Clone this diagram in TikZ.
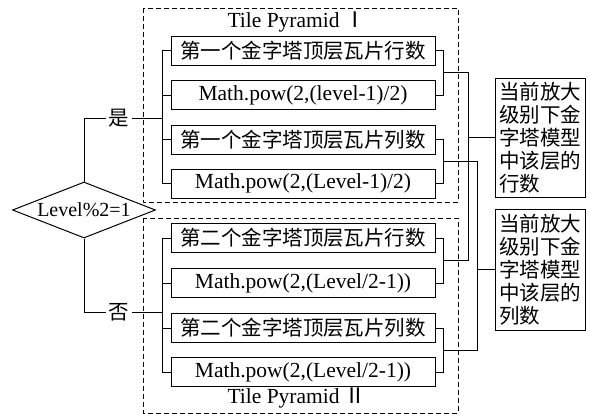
\documentclass[tikz,border=0pt]{standalone}
\usepackage{fontspec}
\setmainfont{Liberation Serif}
\newfontfamily\cjk{Noto Sans CJK SC}
\newcommand\zh{\fontsize{20.5}{23}\selectfont\cjk}
\usetikzlibrary{positioning,shapes.geometric,calc}

\begin{document}
\begin{tikzpicture}[x=1pt, y=-1pt, font=\fontsize{21.5}{24}\selectfont]
    \tikzset{
      tile/.style={draw, line width=1pt, minimum width=264pt, minimum height=29pt, inner sep=0pt},
      result/.style={draw, line width=1pt, inner xsep=4pt, inner ysep=2pt, text width=82pt, align=left, font=\zh},
      decision/.style={draw, diamond, line width=1pt, minimum width=143pt, minimum height=56pt, inner sep=0pt, font=\fontsize{20}{22}\selectfont},
      group/.style={draw, dash pattern=on 5pt off 3pt, line width=0.9pt},
      link/.style={line width=0.8pt},
      answer/.style={fill=white, inner xsep=3pt, inner ysep=1pt, font=\zh},
    }
    \useasboundingbox (0,0) rectangle (590,416);
    % dashed frames
    \draw[group] (143,8) rectangle (458,202);
    \draw[group] (143,218) rectangle (458,413);
    \node (t1) at (297,22) {Tile Pyramid \cjk{Ⅰ}};
    \node (t2) at (297,398) {Tile Pyramid \cjk{Ⅱ}};

    \node [decision] (lv) at (84,210) {\makebox[0pt]{Level\%2=1}};

    \node [tile] (a) at (303,50.5) {\zh 第一个金字塔顶层瓦片行数};
    \node [tile] (b) [below=14.5pt of a] {Math.pow(2,(level-1)/2)};
    \node [tile] (c) [below=14.5pt of b] {\zh 第一个金字塔顶层瓦片列数};
    \node [tile] (d) [below=14pt of c] {Math.pow(2,(Level-1)/2)};

    \node [tile] (e) at (303,238) {\zh 第二个金字塔顶层瓦片行数};
    \node [tile] (f) [below=15pt of e] {Math.pow(2,(Level/2-1))};
    \node [tile] (g) [below=15pt of f] {\zh 第二个金字塔顶层瓦片列数};
    \node [tile] (h) [below=14pt of g] {Math.pow(2,(Level/2-1))};

    \node [result, minimum height=119pt] (rows) at (540,137.5) {当前放大\\级别下金\\字塔模型\\中该层的\\行数};
    \node [result, minimum height=121pt] (cols) at (540,269.5) {当前放大\\级别下金\\字塔模型\\中该层的\\列数};

    % left buses
    \coordinate (yes) at (163,118);
    \coordinate (no) at (163,312);
    \draw[link] (a.west) -- ++(-8,0) coordinate (s1) -- (s1 |- d.west) -- (d.west);
    \draw[link] (b.west) -- (s1 |- b.west);
    \draw[link] (c.west) -- (s1 |- c.west);
    \draw[link] (e.west) -- ++(-8,0) coordinate (s2) -- (s2 |- h.west) -- (h.west);
    \draw[link] (f.west) -- (s2 |- f.west);
    \draw[link] (g.west) -- (s2 |- g.west);
    \draw[link] (lv.north) |- node[answer, pos=0.72] {是} (yes);
    \draw[link] (lv.south) |- node[answer, pos=0.72] {否} (no);

    % right brackets
    \draw[link] (a.east) -- ++(8,0) coordinate (ra) |- (b.east);
    \draw[link] (c.east) -- ++(8,0) coordinate (rc) |- (d.east);
    \draw[link] (e.east) -- ++(8,0) coordinate (re) |- (f.east);
    \draw[link] (g.east) -- ++(8,0) coordinate (rg) |- (h.east);
    \coordinate (ab) at ($(ra)!.5!(ra |- b.east)$);
    \coordinate (cd) at ($(rc)!.5!(rc |- d.east)$);
    \coordinate (ef) at ($(re)!.5!(re |- f.east)$);
    \coordinate (gh) at ($(rg)!.5!(rg |- h.east)$);
    \coordinate (rbus) at (468,0);
    \coordinate (cbus) at (477,0);
    \draw[link] (ab) -| (rbus |- ef) -- (ef);
    \draw[link] (rows.west) -- (rows.west -| rbus);
    \draw[link] (cd) -| (cbus |- gh) -- (gh);
    \draw[link] (cols.west) -- (cols.west -| cbus);
\end{tikzpicture}
\end{document}
